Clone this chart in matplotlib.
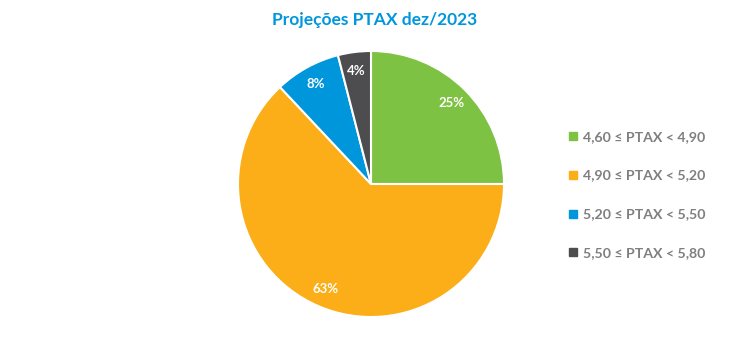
import matplotlib
matplotlib.use("Agg")
import matplotlib.pyplot as plt
from matplotlib.lines import Line2D

labels = ["4,60 ≤ PTAX < 4,90", "4,90 ≤ PTAX < 5,20", "5,20 ≤ PTAX < 5,50", "5,50 ≤ PTAX < 5,80"]
values = [25, 63, 8, 4]
colors = ["#7DC242", "#FBAE17", "#0096DB", "#4D4D4F"]
title = "Projeções PTAX dez/2023"

plt.rcParams['font.family'] = ['Lato', 'DejaVu Sans']

fig = plt.figure(figsize=(7.5, 3.55), dpi=100)
ax = fig.add_axes([238/750, 38/355, 266/750, 266/355])
wedges, texts, autotexts = ax.pie(values, colors=colors, startangle=90, counterclock=False,
                                  autopct=lambda p: f"{p:.0f}%", pctdistance=0.86,
                                  wedgeprops=dict(edgecolor="white", linewidth=1.5),
                                  textprops=dict(color="white", fontsize=9.5, fontweight="bold"))
ax.set_xlim(-1, 1)
ax.set_ylim(-1, 1)
ax.set_aspect('equal')
ax.axis('off')

fig.text(375/750, 1 - 20/355, title, ha="center", va="center", color="#0096DB",
         fontsize=12.5, fontweight="bold")

handles = [Line2D([0], [0], marker="s", linestyle="none", markersize=6,
                  markerfacecolor=c, markeredgecolor=c) for c in colors]
leg = fig.legend(handles, labels, loc="center left", bbox_to_anchor=(553/750, 1 - 195/355),
                 frameon=False, labelspacing=1.9, handletextpad=0.2, handlelength=1.0,
                 prop=dict(size=10.2, weight="bold"))
for t in leg.get_texts():
    t.set_color("#7F7F7F")

fig.savefig("out.png", dpi=100)
